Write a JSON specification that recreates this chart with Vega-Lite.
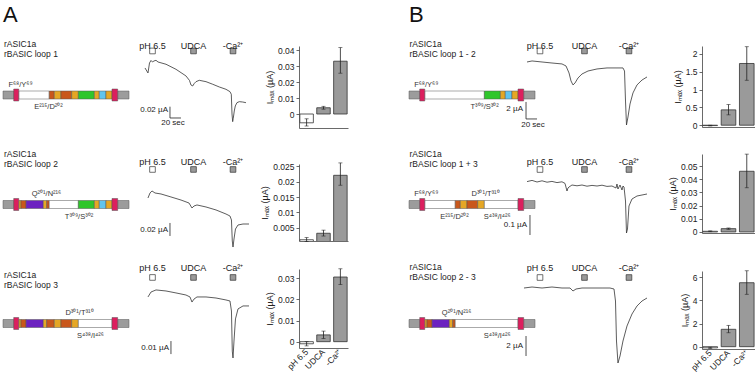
{
"$schema": "https://vega.github.io/schema/vega-lite/v6.json",
"padding": {"left": 2, "top": 3, "right": 2, "bottom": 0},
"background": "white",
"config": {"font": "Liberation Sans", "view": {"stroke": null},
 "axis": {"grid": false, "tickSize": 3, "labelFontSize": 8.5, "titleFontSize": 9, "titleFontWeight": "normal", "domainColor": "#444", "tickColor": "#444", "labelColor": "#222", "titleColor": "#222", "labelPadding": 2, "titlePadding": 3, "domainWidth": 0.8, "tickWidth": 0.8, "labelOverlap": false}},
"datasets": {
 "constructs": [
  {"construct":"loop 1","panel":"A","name":"rASIC1a\nrBASIC loop 1"},
  {"construct":"loop 2","panel":"A","name":"rASIC1a\nrBASIC loop 2"},
  {"construct":"loop 3","panel":"A","name":"rASIC1a\nrBASIC loop 3"},
  {"construct":"loop 1 - 2","panel":"B","name":"rASIC1a\nrBASIC loop 1 - 2"},
  {"construct":"loop 1 + 3","panel":"B","name":"rASIC1a\nrBASIC loop 1 + 3"},
  {"construct":"loop 2 - 3","panel":"B","name":"rASIC1a\nrBASIC loop 2 - 3"}
 ],
 "segments": [
  {"construct":"loop 1","start":0,"end":8.5,"region":"grey"},
  {"construct":"loop 1","start":8.5,"end":12.5,"region":"TM"},
  {"construct":"loop 1","start":12.5,"end":36.7,"region":"BASIC"},
  {"construct":"loop 1","start":36.7,"end":40.7,"region":"orange"},
  {"construct":"loop 1","start":40.7,"end":46,"region":"gold"},
  {"construct":"loop 1","start":46,"end":54.5,"region":"orange"},
  {"construct":"loop 1","start":54.5,"end":59.8,"region":"gold"},
  {"construct":"loop 1","start":59.8,"end":72.5,"region":"green"},
  {"construct":"loop 1","start":72.5,"end":76.4,"region":"gold"},
  {"construct":"loop 1","start":76.4,"end":81.7,"region":"blue"},
  {"construct":"loop 1","start":81.7,"end":86.5,"region":"gold"},
  {"construct":"loop 1","start":86.5,"end":91,"region":"TM"},
  {"construct":"loop 1","start":91,"end":100,"region":"grey"},
  {"construct":"loop 2","start":0,"end":8.5,"region":"grey"},
  {"construct":"loop 2","start":8.5,"end":12.5,"region":"TM"},
  {"construct":"loop 2","start":12.5,"end":14.3,"region":"gold"},
  {"construct":"loop 2","start":14.3,"end":18.3,"region":"orange"},
  {"construct":"loop 2","start":18.3,"end":32,"region":"purple"},
  {"construct":"loop 2","start":32,"end":34.7,"region":"gold"},
  {"construct":"loop 2","start":34.7,"end":36.7,"region":"orange"},
  {"construct":"loop 2","start":36.7,"end":59.8,"region":"BASIC"},
  {"construct":"loop 2","start":59.8,"end":72.5,"region":"green"},
  {"construct":"loop 2","start":72.5,"end":76.4,"region":"gold"},
  {"construct":"loop 2","start":76.4,"end":81.7,"region":"blue"},
  {"construct":"loop 2","start":81.7,"end":86.5,"region":"gold"},
  {"construct":"loop 2","start":86.5,"end":91,"region":"TM"},
  {"construct":"loop 2","start":91,"end":100,"region":"grey"},
  {"construct":"loop 3","start":0,"end":8.5,"region":"grey"},
  {"construct":"loop 3","start":8.5,"end":12.5,"region":"TM"},
  {"construct":"loop 3","start":12.5,"end":14.3,"region":"gold"},
  {"construct":"loop 3","start":14.3,"end":18.3,"region":"orange"},
  {"construct":"loop 3","start":18.3,"end":32,"region":"purple"},
  {"construct":"loop 3","start":32,"end":34.7,"region":"gold"},
  {"construct":"loop 3","start":34.7,"end":40.7,"region":"orange"},
  {"construct":"loop 3","start":40.7,"end":46,"region":"gold"},
  {"construct":"loop 3","start":46,"end":54.5,"region":"orange"},
  {"construct":"loop 3","start":54.5,"end":59.8,"region":"gold"},
  {"construct":"loop 3","start":59.8,"end":86.5,"region":"BASIC"},
  {"construct":"loop 3","start":86.5,"end":91,"region":"TM"},
  {"construct":"loop 3","start":91,"end":100,"region":"grey"},
  {"construct":"loop 1 - 2","start":0,"end":8.5,"region":"grey"},
  {"construct":"loop 1 - 2","start":8.5,"end":12.5,"region":"TM"},
  {"construct":"loop 1 - 2","start":12.5,"end":59.8,"region":"BASIC"},
  {"construct":"loop 1 - 2","start":59.8,"end":72.5,"region":"green"},
  {"construct":"loop 1 - 2","start":72.5,"end":76.4,"region":"gold"},
  {"construct":"loop 1 - 2","start":76.4,"end":81.7,"region":"blue"},
  {"construct":"loop 1 - 2","start":81.7,"end":86.5,"region":"gold"},
  {"construct":"loop 1 - 2","start":86.5,"end":91,"region":"TM"},
  {"construct":"loop 1 - 2","start":91,"end":100,"region":"grey"},
  {"construct":"loop 1 + 3","start":0,"end":8.5,"region":"grey"},
  {"construct":"loop 1 + 3","start":8.5,"end":12.5,"region":"TM"},
  {"construct":"loop 1 + 3","start":12.5,"end":36.7,"region":"BASIC"},
  {"construct":"loop 1 + 3","start":36.7,"end":40.7,"region":"orange"},
  {"construct":"loop 1 + 3","start":40.7,"end":46,"region":"gold"},
  {"construct":"loop 1 + 3","start":46,"end":54.5,"region":"orange"},
  {"construct":"loop 1 + 3","start":54.5,"end":59.8,"region":"gold"},
  {"construct":"loop 1 + 3","start":59.8,"end":86.5,"region":"BASIC"},
  {"construct":"loop 1 + 3","start":86.5,"end":91,"region":"TM"},
  {"construct":"loop 1 + 3","start":91,"end":100,"region":"grey"},
  {"construct":"loop 2 - 3","start":0,"end":8.5,"region":"grey"},
  {"construct":"loop 2 - 3","start":8.5,"end":12.5,"region":"TM"},
  {"construct":"loop 2 - 3","start":12.5,"end":14.3,"region":"gold"},
  {"construct":"loop 2 - 3","start":14.3,"end":18.3,"region":"orange"},
  {"construct":"loop 2 - 3","start":18.3,"end":32,"region":"purple"},
  {"construct":"loop 2 - 3","start":32,"end":34.7,"region":"gold"},
  {"construct":"loop 2 - 3","start":34.7,"end":36.7,"region":"orange"},
  {"construct":"loop 2 - 3","start":36.7,"end":86.5,"region":"BASIC"},
  {"construct":"loop 2 - 3","start":86.5,"end":91,"region":"TM"},
  {"construct":"loop 2 - 3","start":91,"end":100,"region":"grey"}
 ],
 "sites": [
  {"construct":"loop 1","label":"F⁶⁸/Y⁶⁹","pos":13.9,"side":"above"},
  {"construct":"loop 1","label":"E²¹⁵/D²⁰²","pos":36.1,"side":"below"},
  {"construct":"loop 2","label":"Q²⁰¹/N²¹⁶","pos":34.5,"side":"above"},
  {"construct":"loop 2","label":"T³⁰⁹/S³⁰²","pos":60.3,"side":"below"},
  {"construct":"loop 3","label":"D³⁰¹/T³¹⁰","pos":60.7,"side":"above"},
  {"construct":"loop 3","label":"S⁴³⁸/I⁴²⁶","pos":69.4,"side":"below"},
  {"construct":"loop 1 - 2","label":"F⁶⁸/Y⁶⁹","pos":13.7,"side":"above"},
  {"construct":"loop 1 - 2","label":"T³⁰⁹/S³⁰²","pos":60,"side":"below"},
  {"construct":"loop 1 + 3","label":"F⁶⁸/Y⁶⁹","pos":13.7,"side":"above"},
  {"construct":"loop 1 + 3","label":"D³⁰¹/T³¹⁰","pos":60.7,"side":"above"},
  {"construct":"loop 1 + 3","label":"E²¹⁵/D²⁰²","pos":36.1,"side":"below"},
  {"construct":"loop 1 + 3","label":"S⁴³⁸/I⁴²⁶","pos":70,"side":"below"},
  {"construct":"loop 2 - 3","label":"Q²⁰¹/N²¹⁶","pos":37.7,"side":"above"},
  {"construct":"loop 2 - 3","label":"S⁴³⁸/I⁴²⁶","pos":70,"side":"below"}
 ],
 "stimuli": [
  {"panel":"A","cond":"pH 6.5","t":20.9},
  {"panel":"A","cond":"UDCA","t":95.5},
  {"panel":"A","cond":"-Ca²⁺","t":167.3},
  {"panel":"B","cond":"pH 6.5","t":32.7},
  {"panel":"B","cond":"UDCA","t":113.6},
  {"panel":"B","cond":"-Ca²⁺","t":194.5}
 ],
 "scalebars": [
  {"construct":"loop 1","t":52.7,"t2":52.7,"I":-0.1009,"I2":-0.0809},
  {"construct":"loop 1","t":52.7,"t2":72.7,"I":-0.1009,"I2":-0.1009},
  {"construct":"loop 2","t":52.7,"t2":52.7,"I":-0.0615,"I2":-0.0415},
  {"construct":"loop 3","t":54.5,"t2":54.5,"I":-0.0485,"I2":-0.0385},
  {"construct":"loop 1 - 2","t":7.3,"t2":7.3,"I":-6.82,"I2":-4.82},
  {"construct":"loop 1 - 2","t":7.3,"t2":27.3,"I":-6.82,"I2":-6.82},
  {"construct":"loop 1 + 3","t":14.5,"t2":14.5,"I":-0.27,"I2":-0.17},
  {"construct":"loop 2 - 3","t":7.3,"t2":7.3,"I":-6.9,"I2":-4.9}
 ],
 "scalelabels": [
  {"construct":"loop 1","kind":"amp","label":"0.02 µA","t":49.1,"I":-0.0876},
  {"construct":"loop 1","kind":"time","label":"20 sec","t":58.2,"I":-0.1097},
  {"construct":"loop 2","kind":"amp","label":"0.02 µA","t":49.1,"I":-0.0523},
  {"construct":"loop 3","kind":"amp","label":"0.01 µA","t":50.9,"I":-0.0438},
  {"construct":"loop 1 - 2","kind":"amp","label":"2 µA","t":1.8,"I":-5.65},
  {"construct":"loop 1 - 2","kind":"time","label":"20 sec","t":20,"I":-7.53},
  {"construct":"loop 1 + 3","kind":"amp","label":"0.1 µA","t":9.1,"I":-0.22},
  {"construct":"loop 2 - 3","kind":"amp","label":"2 µA","t":1.8,"I":-5.9}
 ],
 "imax": [
  {"construct":"loop 1","cond":"pH 6.5","mean":-0.0055,"lo":-0.0075,"hi":-0.003},
  {"construct":"loop 1","cond":"UDCA","mean":0.0039,"lo":0.003,"hi":0.0048},
  {"construct":"loop 1","cond":"-Ca²⁺","mean":0.033,"lo":0.0255,"hi":0.0415},
  {"construct":"loop 2","cond":"pH 6.5","mean":0.0012,"lo":0.0006,"hi":0.0019},
  {"construct":"loop 2","cond":"UDCA","mean":0.0033,"lo":0.0024,"hi":0.0043},
  {"construct":"loop 2","cond":"-Ca²⁺","mean":0.022,"lo":0.0188,"hi":0.026},
  {"construct":"loop 3","cond":"pH 6.5","mean":-0.001,"lo":-0.002,"hi":0},
  {"construct":"loop 3","cond":"UDCA","mean":0.0032,"lo":0.0015,"hi":0.005},
  {"construct":"loop 3","cond":"-Ca²⁺","mean":0.0306,"lo":0.027,"hi":0.0345},
  {"construct":"loop 1 - 2","cond":"pH 6.5","mean":-0.01,"lo":-0.02,"hi":0},
  {"construct":"loop 1 - 2","cond":"UDCA","mean":0.43,"lo":0.29,"hi":0.58},
  {"construct":"loop 1 - 2","cond":"-Ca²⁺","mean":1.73,"lo":1.26,"hi":2.2},
  {"construct":"loop 1 + 3","cond":"pH 6.5","mean":0.0005,"lo":0.0002,"hi":0.0008},
  {"construct":"loop 1 + 3","cond":"UDCA","mean":0.0025,"lo":0.002,"hi":0.003},
  {"construct":"loop 1 + 3","cond":"-Ca²⁺","mean":0.046,"lo":0.0335,"hi":0.059},
  {"construct":"loop 2 - 3","cond":"pH 6.5","mean":-0.1,"lo":-0.15,"hi":-0.05},
  {"construct":"loop 2 - 3","cond":"UDCA","mean":1.5,"lo":1.2,"hi":1.84},
  {"construct":"loop 2 - 3","cond":"-Ca²⁺","mean":5.52,"lo":4.52,"hi":6.55}
 ],
 "traces": [
  {"construct":"loop 1","t":7.3,"I":-0.0124},{"construct":"loop 1","t":12.7,"I":-0.0212},{"construct":"loop 1","t":15.5,"I":-0.0035},{"construct":"loop 1","t":18.2,"I":0.0009},{"construct":"loop 1","t":20.9,"I":-0.0018},{"construct":"loop 1","t":23.6,"I":0},{"construct":"loop 1","t":27.3,"I":0.0012},{"construct":"loop 1","t":30.9,"I":-0.0018},{"construct":"loop 1","t":45.5,"I":-0.0058},{"construct":"loop 1","t":63.6,"I":-0.0147},{"construct":"loop 1","t":81.8,"I":-0.0265},{"construct":"loop 1","t":88.2,"I":-0.0345},{"construct":"loop 1","t":90.9,"I":-0.0425},{"construct":"loop 1","t":94,"I":-0.0442},{"construct":"loop 1","t":96.9,"I":-0.0398},{"construct":"loop 1","t":100,"I":-0.0366},{"construct":"loop 1","t":106,"I":-0.0342},{"construct":"loop 1","t":118.2,"I":-0.0366},{"construct":"loop 1","t":130.4,"I":-0.0412},{"construct":"loop 1","t":142.4,"I":-0.046},{"construct":"loop 1","t":154.5,"I":-0.0501},{"construct":"loop 1","t":161.8,"I":-0.0543},{"construct":"loop 1","t":164.2,"I":-0.0589},{"construct":"loop 1","t":165.5,"I":-0.0938},{"construct":"loop 1","t":166.7,"I":-0.1074},{"construct":"loop 1","t":167.8,"I":-0.1014},{"construct":"loop 1","t":169.6,"I":-0.0885},{"construct":"loop 1","t":171.5,"I":-0.0796},{"construct":"loop 1","t":174.5,"I":-0.0738},{"construct":"loop 1","t":178.7,"I":-0.072},{"construct":"loop 1","t":184.9,"I":-0.0726},{"construct":"loop 1","t":190.9,"I":-0.0738},
  {"construct":"loop 2","t":12.7,"I":-0.0031},{"construct":"loop 2","t":16.4,"I":0.0046},{"construct":"loop 2","t":20,"I":0.0077},{"construct":"loop 2","t":25.5,"I":0.0046},{"construct":"loop 2","t":36.4,"I":0.0031},{"construct":"loop 2","t":54.5,"I":-0.0015},{"construct":"loop 2","t":72.7,"I":-0.0062},{"construct":"loop 2","t":87.3,"I":-0.0108},{"construct":"loop 2","t":92.7,"I":-0.0185},{"construct":"loop 2","t":96.4,"I":-0.0154},{"construct":"loop 2","t":101.8,"I":-0.0138},{"construct":"loop 2","t":118.2,"I":-0.0169},{"construct":"loop 2","t":136.4,"I":-0.0215},{"construct":"loop 2","t":154.5,"I":-0.0277},{"construct":"loop 2","t":161.8,"I":-0.0308},{"construct":"loop 2","t":164.5,"I":-0.0369},{"construct":"loop 2","t":166,"I":-0.0692},{"construct":"loop 2","t":167.3,"I":-0.0785},{"construct":"loop 2","t":169.1,"I":-0.0662},{"construct":"loop 2","t":171.8,"I":-0.0508},{"construct":"loop 2","t":176.4,"I":-0.0446},{"construct":"loop 2","t":185.5,"I":-0.0431},{"construct":"loop 2","t":196.4,"I":-0.0431},
  {"construct":"loop 3","t":12.7,"I":-0.0046},{"construct":"loop 3","t":18.2,"I":-0.0008},{"construct":"loop 3","t":27.3,"I":0.0008},{"construct":"loop 3","t":45.5,"I":0},{"construct":"loop 3","t":63.6,"I":-0.0015},{"construct":"loop 3","t":81.8,"I":-0.0031},{"construct":"loop 3","t":89.1,"I":-0.0046},{"construct":"loop 3","t":92.7,"I":-0.0085},{"construct":"loop 3","t":96.4,"I":-0.0062},{"construct":"loop 3","t":101.8,"I":-0.0046},{"construct":"loop 3","t":118.2,"I":-0.0046},{"construct":"loop 3","t":136.4,"I":-0.0054},{"construct":"loop 3","t":154.5,"I":-0.0069},{"construct":"loop 3","t":161.8,"I":-0.0077},{"construct":"loop 3","t":164.5,"I":-0.0154},{"construct":"loop 3","t":166,"I":-0.0462},{"construct":"loop 3","t":167.3,"I":-0.0515},{"construct":"loop 3","t":169.1,"I":-0.0385},{"construct":"loop 3","t":171.8,"I":-0.0215},{"construct":"loop 3","t":176.4,"I":-0.0138},{"construct":"loop 3","t":185.5,"I":-0.0115},{"construct":"loop 3","t":196.4,"I":-0.0115},
  {"construct":"loop 1 - 2","t":9.1,"I":-0.12},{"construct":"loop 1 - 2","t":18.2,"I":0},{"construct":"loop 1 - 2","t":36.4,"I":-0.12},{"construct":"loop 1 - 2","t":54.5,"I":-0.24},{"construct":"loop 1 - 2","t":72.7,"I":-0.35},{"construct":"loop 1 - 2","t":80,"I":-0.59},{"construct":"loop 1 - 2","t":85.5,"I":-1.41},{"construct":"loop 1 - 2","t":89.1,"I":-2.35},{"construct":"loop 1 - 2","t":92.7,"I":-2.82},{"construct":"loop 1 - 2","t":96.4,"I":-2.59},{"construct":"loop 1 - 2","t":101.8,"I":-2.0},{"construct":"loop 1 - 2","t":109.1,"I":-1.53},{"construct":"loop 1 - 2","t":120,"I":-1.18},{"construct":"loop 1 - 2","t":136.4,"I":-0.94},{"construct":"loop 1 - 2","t":154.5,"I":-0.82},{"construct":"loop 1 - 2","t":172.7,"I":-0.82},{"construct":"loop 1 - 2","t":183.6,"I":-0.82},{"construct":"loop 1 - 2","t":186.4,"I":-1.18},{"construct":"loop 1 - 2","t":188.2,"I":-4.71},{"construct":"loop 1 - 2","t":190,"I":-7.53},{"construct":"loop 1 - 2","t":192.7,"I":-6.59},{"construct":"loop 1 - 2","t":196.4,"I":-5.06},{"construct":"loop 1 - 2","t":201.8,"I":-3.76},{"construct":"loop 1 - 2","t":209.1,"I":-2.82},{"construct":"loop 1 - 2","t":218.2,"I":-2.24},{"construct":"loop 1 - 2","t":227.3,"I":-1.88},
  {"construct":"loop 1 + 3","t":9.1,"I":-0.003},{"construct":"loop 1 + 3","t":18.2,"I":0.003},{"construct":"loop 1 + 3","t":27.3,"I":-0.005},{"construct":"loop 1 + 3","t":36.4,"I":0.001},{"construct":"loop 1 + 3","t":45.5,"I":-0.006},{"construct":"loop 1 + 3","t":54.5,"I":-0.002},{"construct":"loop 1 + 3","t":63.6,"I":-0.008},{"construct":"loop 1 + 3","t":72.7,"I":-0.004},{"construct":"loop 1 + 3","t":78.2,"I":-0.012},{"construct":"loop 1 + 3","t":81.8,"I":-0.05},{"construct":"loop 1 + 3","t":83.6,"I":-0.035},{"construct":"loop 1 + 3","t":85.5,"I":-0.03},{"construct":"loop 1 + 3","t":90.9,"I":-0.02},{"construct":"loop 1 + 3","t":100,"I":-0.024},{"construct":"loop 1 + 3","t":109.1,"I":-0.02},{"construct":"loop 1 + 3","t":118.2,"I":-0.026},{"construct":"loop 1 + 3","t":127.3,"I":-0.022},{"construct":"loop 1 + 3","t":136.4,"I":-0.025},{"construct":"loop 1 + 3","t":145.5,"I":-0.021},{"construct":"loop 1 + 3","t":154.5,"I":-0.027},{"construct":"loop 1 + 3","t":163.6,"I":-0.025},{"construct":"loop 1 + 3","t":170.9,"I":-0.035},{"construct":"loop 1 + 3","t":172.7,"I":-0.015},{"construct":"loop 1 + 3","t":174.5,"I":-0.04},{"construct":"loop 1 + 3","t":178.2,"I":-0.02},{"construct":"loop 1 + 3","t":181.8,"I":-0.045},{"construct":"loop 1 + 3","t":183.6,"I":-0.025},{"construct":"loop 1 + 3","t":185.5,"I":-0.03},{"construct":"loop 1 + 3","t":188.2,"I":-0.1},{"construct":"loop 1 + 3","t":190,"I":-0.26},{"construct":"loop 1 + 3","t":191.8,"I":-0.24},{"construct":"loop 1 + 3","t":194.5,"I":-0.125},{"construct":"loop 1 + 3","t":200,"I":-0.09},{"construct":"loop 1 + 3","t":209.1,"I":-0.075},{"construct":"loop 1 + 3","t":218.2,"I":-0.07},{"construct":"loop 1 + 3","t":227.3,"I":-0.065},
  {"construct":"loop 2 - 3","t":3.6,"I":-0.1},{"construct":"loop 2 - 3","t":18.2,"I":0},{"construct":"loop 2 - 3","t":36.4,"I":-0.1},{"construct":"loop 2 - 3","t":54.5,"I":0},{"construct":"loop 2 - 3","t":72.7,"I":-0.1},{"construct":"loop 2 - 3","t":87.3,"I":-0.1},{"construct":"loop 2 - 3","t":92.7,"I":-0.4},{"construct":"loop 2 - 3","t":98.2,"I":-0.2},{"construct":"loop 2 - 3","t":109.1,"I":-0.1},{"construct":"loop 2 - 3","t":127.3,"I":-0.1},{"construct":"loop 2 - 3","t":145.5,"I":-0.1},{"construct":"loop 2 - 3","t":160,"I":-0.1},{"construct":"loop 2 - 3","t":167.3,"I":-0.2},{"construct":"loop 2 - 3","t":170,"I":-1.4},{"construct":"loop 2 - 3","t":171.8,"I":-5.4},{"construct":"loop 2 - 3","t":174.5,"I":-7.6},{"construct":"loop 2 - 3","t":178.2,"I":-6.9},{"construct":"loop 2 - 3","t":183.6,"I":-5.4},{"construct":"loop 2 - 3","t":190.9,"I":-3.9},{"construct":"loop 2 - 3","t":200,"I":-2.7},{"construct":"loop 2 - 3","t":209.1,"I":-1.9},{"construct":"loop 2 - 3","t":218.2,"I":-1.4},{"construct":"loop 2 - 3","t":227.3,"I":-1.1}
 ]
},
"spacing": 60,
"hconcat": [
 {"columns": 2, "spacing": 0, "bounds": "flush", "align": "each", "concat": [
  {"width": 296, "height": 118, "resolve": {"scale": {"x": "independent", "y": "independent"}}, "layer": [
   {"layer": [
    {"data": {"name": "segments"}, "transform": [{"filter": "datum.construct === 'loop 1' && datum.region !== 'TM'"}], "mark": {"type": "rect", "stroke": "#555", "strokeWidth": 0.5},
     "encoding": {"x": {"field": "start", "type": "quantitative", "scale": {"domain": [0, 234.9], "nice": false, "zero": false}, "axis": null}, "x2": {"field": "end"},
      "y": {"datum": -1, "type": "quantitative", "scale": {"domain": [-17.25, 12.25], "nice": false, "zero": false}, "axis": null}, "y2": {"datum": 1},
      "color": {"field": "region", "type": "nominal", "scale": {"domain": ["grey","TM","BASIC","orange","gold","green","blue","purple"], "range": ["#9c9c9c","#dc1f5e","#ffffff","#c9571b","#e5a725","#2fc62b","#60c4ef","#6c22c0"]}, "legend": null}}},
    {"data": {"name": "segments"}, "transform": [{"filter": "datum.construct === 'loop 1' && datum.region === 'TM'"}], "mark": {"type": "rect", "stroke": "#555", "strokeWidth": 0.5},
     "encoding": {"x": {"field": "start", "type": "quantitative", "scale": {"domain": [0, 234.9], "nice": false, "zero": false}, "axis": null}, "x2": {"field": "end"}, "y": {"datum": -1.5, "type": "quantitative", "scale": {"domain": [-17.25, 12.25], "nice": false, "zero": false}, "axis": null}, "y2": {"datum": 1.5}, "color": {"field": "region", "type": "nominal", "legend": null}}},
    {"data": {"name": "sites"}, "transform": [{"filter": "datum.construct === 'loop 1' && datum.side === 'above'"}], "mark": {"type": "text", "fontSize": 7.5, "color": "#333", "baseline": "middle"},
     "encoding": {"x": {"field": "pos", "type": "quantitative", "scale": {"domain": [0, 234.9], "nice": false, "zero": false}, "axis": null}, "y": {"datum": 2.6, "type": "quantitative", "scale": {"domain": [-17.25, 12.25], "nice": false, "zero": false}, "axis": null}, "text": {"field": "label"}}},
    {"data": {"name": "sites"}, "transform": [{"filter": "datum.construct === 'loop 1' && datum.side === 'below'"}], "mark": {"type": "text", "fontSize": 7.5, "color": "#333", "baseline": "middle"},
     "encoding": {"x": {"field": "pos", "type": "quantitative", "scale": {"domain": [0, 234.9], "nice": false, "zero": false}, "axis": null}, "y": {"datum": -3, "type": "quantitative", "scale": {"domain": [-17.25, 12.25], "nice": false, "zero": false}, "axis": null}, "text": {"field": "label"}}},
    {"data": {"name": "constructs"}, "transform": [{"filter": "datum.construct === 'loop 1'"}], "mark": {"type": "text", "fontSize": 8.5, "align": "left", "baseline": "alphabetic", "lineBreak": "\n", "lineHeight": 10, "color": "#222"},
     "encoding": {"x": {"datum": 0.8, "type": "quantitative", "scale": {"domain": [0, 234.9], "nice": false, "zero": false}, "axis": null}, "y": {"datum": 12.1, "type": "quantitative", "scale": {"domain": [-17.25, 12.25], "nice": false, "zero": false}, "axis": null}, "text": {"field": "name"}}},
    {"data": {"name": "constructs"}, "transform": [{"filter": "datum.construct === 'loop 1'"}], "mark": {"type": "text", "fontSize": 22, "align": "left", "baseline": "alphabetic", "color": "#111"},
     "encoding": {"x": {"datum": 0, "type": "quantitative", "scale": {"domain": [0, 234.9], "nice": false, "zero": false}, "axis": null}, "y": {"datum": 18.25, "type": "quantitative", "scale": {"domain": [-17.25, 12.25], "nice": false, "zero": false}, "axis": null}, "text": {"field": "panel"}}}
   ]},
   {"layer": [
    {"data": {"name": "traces"}, "transform": [{"filter": "datum.construct === 'loop 1'"}], "mark": {"type": "line", "color": "#333", "strokeWidth": 0.8},
     "encoding": {"x": {"field": "t", "type": "quantitative", "scale": {"domain": [-250.9, 287.3], "nice": false, "zero": false}, "axis": null}, "y": {"field": "I", "type": "quantitative", "scale": {"domain": [-0.1823, 0.0265], "nice": false, "zero": false}, "axis": null}}},
    {"data": {"name": "stimuli"}, "transform": [{"filter": "datum.panel === 'A'"}], "mark": {"type": "square", "size": 32, "stroke": "#333", "strokeWidth": 0.7, "opacity": 1},
     "encoding": {"x": {"field": "t", "type": "quantitative", "scale": {"domain": [-250.9, 287.3], "nice": false, "zero": false}, "axis": null}, "y": {"datum": 0.0177, "type": "quantitative", "scale": {"domain": [-0.1823, 0.0265], "nice": false, "zero": false}, "axis": null}, "fill": {"condition": {"test": "datum.cond === 'pH 6.5'", "value": "#ffffff"}, "value": "#9a9a9a"}}},
    {"data": {"name": "stimuli"}, "transform": [{"filter": "datum.panel === 'A'"}], "mark": {"type": "text", "fontSize": 9, "baseline": "middle", "color": "#222"},
     "encoding": {"x": {"field": "t", "type": "quantitative", "scale": {"domain": [-250.9, 287.3], "nice": false, "zero": false}, "axis": null}, "y": {"datum": 0.0265, "type": "quantitative", "scale": {"domain": [-0.1823, 0.0265], "nice": false, "zero": false}, "axis": null}, "text": {"field": "cond"}}},
    {"data": {"name": "scalebars"}, "transform": [{"filter": "datum.construct === 'loop 1'"}], "mark": {"type": "rule", "color": "#222", "strokeWidth": 0.8},
     "encoding": {"x": {"field": "t", "type": "quantitative", "scale": {"domain": [-250.9, 287.3], "nice": false, "zero": false}, "axis": null}, "x2": {"field": "t2"}, "y": {"field": "I", "type": "quantitative", "scale": {"domain": [-0.1823, 0.0265], "nice": false, "zero": false}, "axis": null}, "y2": {"field": "I2"}}},
    {"data": {"name": "scalelabels"}, "transform": [{"filter": "datum.construct === 'loop 1' && datum.kind === 'amp'"}], "mark": {"type": "text", "fontSize": 8, "align": "right", "baseline": "middle", "color": "#222"},
     "encoding": {"x": {"field": "t", "type": "quantitative", "scale": {"domain": [-250.9, 287.3], "nice": false, "zero": false}, "axis": null}, "y": {"field": "I", "type": "quantitative", "scale": {"domain": [-0.1823, 0.0265], "nice": false, "zero": false}, "axis": null}, "text": {"field": "label"}}},
    {"data": {"name": "scalelabels"}, "transform": [{"filter": "datum.construct === 'loop 1' && datum.kind === 'time'"}], "mark": {"type": "text", "fontSize": 8, "align": "center", "baseline": "middle", "color": "#222"},
     "encoding": {"x": {"field": "t", "type": "quantitative", "scale": {"domain": [-250.9, 287.3], "nice": false, "zero": false}, "axis": null}, "y": {"field": "I", "type": "quantitative", "scale": {"domain": [-0.1823, 0.0265], "nice": false, "zero": false}, "axis": null}, "text": {"field": "label"}}}
   ]}
  ]},
  {"width": 49, "height": 82, "data": {"name": "imax"}, "transform": [{"filter": "datum.construct === 'loop 1'"}],
   "encoding": {"x": {"field": "cond", "type": "nominal", "sort": ["pH 6.5","UDCA","-Ca²⁺"], "scale": {"paddingInner": 0.2, "paddingOuter": 0.05}, "axis": {"labels": false, "ticks": false, "title": null}}},
   "layer": [
    {"mark": {"type": "bar", "stroke": "#333", "strokeWidth": 0.8, "clip": true}, "encoding": {"y": {"field": "mean", "type": "quantitative", "scale": {"domain": [-0.00875, 0.0425], "nice": false, "zero": false}, "axis": {"title": "Iₘₐₓ (µA)", "values": [0, 0.01, 0.02, 0.03, 0.04], "tickCount": 12, "format": ".3~g"}}, "y2": {"datum": 0}, "fill": {"condition": {"test": "datum.cond === 'pH 6.5'", "value": "#ffffff"}, "value": "#9a9a9a"}}},
    {"mark": {"type": "rule", "color": "#222", "strokeWidth": 0.8}, "encoding": {"y": {"field": "lo", "type": "quantitative", "scale": {"domain": [-0.00875, 0.0425], "nice": false, "zero": false}}, "y2": {"field": "hi"}}},
    {"mark": {"type": "tick", "color": "#222", "thickness": 0.8, "size": 4}, "encoding": {"y": {"field": "lo", "type": "quantitative", "scale": {"domain": [-0.00875, 0.0425], "nice": false, "zero": false}}}},
    {"mark": {"type": "tick", "color": "#222", "thickness": 0.8, "size": 4}, "encoding": {"y": {"field": "hi", "type": "quantitative", "scale": {"domain": [-0.00875, 0.0425], "nice": false, "zero": false}}}}
   ]},
  {"width": 296, "height": 105, "resolve": {"scale": {"x": "independent", "y": "independent"}}, "layer": [
   {"layer": [
    {"data": {"name": "segments"}, "transform": [{"filter": "datum.construct === 'loop 2' && datum.region !== 'TM'"}], "mark": {"type": "rect", "stroke": "#555", "strokeWidth": 0.5},
     "encoding": {"x": {"field": "start", "type": "quantitative", "scale": {"domain": [0, 234.9], "nice": false, "zero": false}, "axis": null}, "x2": {"field": "end"},
      "y": {"datum": -1, "type": "quantitative", "scale": {"domain": [-16.125, 10.125], "nice": false, "zero": false}, "axis": null}, "y2": {"datum": 1},
      "color": {"field": "region", "type": "nominal", "scale": {"domain": ["grey","TM","BASIC","orange","gold","green","blue","purple"], "range": ["#9c9c9c","#dc1f5e","#ffffff","#c9571b","#e5a725","#2fc62b","#60c4ef","#6c22c0"]}, "legend": null}}},
    {"data": {"name": "segments"}, "transform": [{"filter": "datum.construct === 'loop 2' && datum.region === 'TM'"}], "mark": {"type": "rect", "stroke": "#555", "strokeWidth": 0.5},
     "encoding": {"x": {"field": "start", "type": "quantitative", "scale": {"domain": [0, 234.9], "nice": false, "zero": false}, "axis": null}, "x2": {"field": "end"}, "y": {"datum": -1.5, "type": "quantitative", "scale": {"domain": [-16.125, 10.125], "nice": false, "zero": false}, "axis": null}, "y2": {"datum": 1.5}, "color": {"field": "region", "type": "nominal", "legend": null}}},
    {"data": {"name": "sites"}, "transform": [{"filter": "datum.construct === 'loop 2' && datum.side === 'above'"}], "mark": {"type": "text", "fontSize": 7.5, "color": "#333", "baseline": "middle"},
     "encoding": {"x": {"field": "pos", "type": "quantitative", "scale": {"domain": [0, 234.9], "nice": false, "zero": false}, "axis": null}, "y": {"datum": 2.6, "type": "quantitative", "scale": {"domain": [-16.125, 10.125], "nice": false, "zero": false}, "axis": null}, "text": {"field": "label"}}},
    {"data": {"name": "sites"}, "transform": [{"filter": "datum.construct === 'loop 2' && datum.side === 'below'"}], "mark": {"type": "text", "fontSize": 7.5, "color": "#333", "baseline": "middle"},
     "encoding": {"x": {"field": "pos", "type": "quantitative", "scale": {"domain": [0, 234.9], "nice": false, "zero": false}, "axis": null}, "y": {"datum": -3, "type": "quantitative", "scale": {"domain": [-16.125, 10.125], "nice": false, "zero": false}, "axis": null}, "text": {"field": "label"}}},
    {"data": {"name": "constructs"}, "transform": [{"filter": "datum.construct === 'loop 2'"}], "mark": {"type": "text", "fontSize": 8.5, "align": "left", "baseline": "alphabetic", "lineBreak": "\n", "lineHeight": 10, "color": "#222"},
     "encoding": {"x": {"datum": 0.8, "type": "quantitative", "scale": {"domain": [0, 234.9], "nice": false, "zero": false}, "axis": null}, "y": {"datum": 11.9, "type": "quantitative", "scale": {"domain": [-16.125, 10.125], "nice": false, "zero": false}, "axis": null}, "text": {"field": "name"}}}
   ]},
   {"layer": [
    {"data": {"name": "traces"}, "transform": [{"filter": "datum.construct === 'loop 2'"}], "mark": {"type": "line", "color": "#333", "strokeWidth": 0.8},
     "encoding": {"x": {"field": "t", "type": "quantitative", "scale": {"domain": [-250.9, 287.3], "nice": false, "zero": false}, "axis": null}, "y": {"field": "I", "type": "quantitative", "scale": {"domain": [-0.1123, 0.0492], "nice": false, "zero": false}, "axis": null}}},
    {"data": {"name": "stimuli"}, "transform": [{"filter": "datum.panel === 'A'"}], "mark": {"type": "square", "size": 32, "stroke": "#333", "strokeWidth": 0.7, "opacity": 1},
     "encoding": {"x": {"field": "t", "type": "quantitative", "scale": {"domain": [-250.9, 287.3], "nice": false, "zero": false}, "axis": null}, "y": {"datum": 0.0408, "type": "quantitative", "scale": {"domain": [-0.1123, 0.0492], "nice": false, "zero": false}, "axis": null}, "fill": {"condition": {"test": "datum.cond === 'pH 6.5'", "value": "#ffffff"}, "value": "#9a9a9a"}}},
    {"data": {"name": "stimuli"}, "transform": [{"filter": "datum.panel === 'A'"}], "mark": {"type": "text", "fontSize": 9, "baseline": "middle", "color": "#222"},
     "encoding": {"x": {"field": "t", "type": "quantitative", "scale": {"domain": [-250.9, 287.3], "nice": false, "zero": false}, "axis": null}, "y": {"datum": 0.0523, "type": "quantitative", "scale": {"domain": [-0.1123, 0.0492], "nice": false, "zero": false}, "axis": null}, "text": {"field": "cond"}}},
    {"data": {"name": "scalebars"}, "transform": [{"filter": "datum.construct === 'loop 2'"}], "mark": {"type": "rule", "color": "#222", "strokeWidth": 0.8},
     "encoding": {"x": {"field": "t", "type": "quantitative", "scale": {"domain": [-250.9, 287.3], "nice": false, "zero": false}, "axis": null}, "x2": {"field": "t2"}, "y": {"field": "I", "type": "quantitative", "scale": {"domain": [-0.1123, 0.0492], "nice": false, "zero": false}, "axis": null}, "y2": {"field": "I2"}}},
    {"data": {"name": "scalelabels"}, "transform": [{"filter": "datum.construct === 'loop 2' && datum.kind === 'amp'"}], "mark": {"type": "text", "fontSize": 8, "align": "right", "baseline": "middle", "color": "#222"},
     "encoding": {"x": {"field": "t", "type": "quantitative", "scale": {"domain": [-250.9, 287.3], "nice": false, "zero": false}, "axis": null}, "y": {"field": "I", "type": "quantitative", "scale": {"domain": [-0.1123, 0.0492], "nice": false, "zero": false}, "axis": null}, "text": {"field": "label"}}}
   ]}
  ]},
  {"width": 49, "height": 77, "data": {"name": "imax"}, "transform": [{"filter": "datum.construct === 'loop 2'"}],
   "encoding": {"x": {"field": "cond", "type": "nominal", "sort": ["pH 6.5","UDCA","-Ca²⁺"], "scale": {"paddingInner": 0.2, "paddingOuter": 0.05}, "axis": {"labels": false, "ticks": false, "title": null}}},
   "layer": [
    {"mark": {"type": "bar", "stroke": "#333", "strokeWidth": 0.8, "clip": true}, "encoding": {"y": {"field": "mean", "type": "quantitative", "scale": {"domain": [0.0008, 0.02565], "nice": false, "zero": false}, "axis": {"title": "Iₘₐₓ (µA)", "values": [0.005, 0.01, 0.015, 0.02, 0.025], "tickCount": 12, "format": ".3~g"}}, "y2": {"datum": 0}, "fill": {"condition": {"test": "datum.cond === 'pH 6.5'", "value": "#ffffff"}, "value": "#9a9a9a"}}},
    {"mark": {"type": "rule", "color": "#222", "strokeWidth": 0.8}, "encoding": {"y": {"field": "lo", "type": "quantitative", "scale": {"domain": [0.0008, 0.02565], "nice": false, "zero": false}}, "y2": {"field": "hi"}}},
    {"mark": {"type": "tick", "color": "#222", "thickness": 0.8, "size": 4}, "encoding": {"y": {"field": "lo", "type": "quantitative", "scale": {"domain": [0.0008, 0.02565], "nice": false, "zero": false}}}},
    {"mark": {"type": "tick", "color": "#222", "thickness": 0.8, "size": 4}, "encoding": {"y": {"field": "hi", "type": "quantitative", "scale": {"domain": [0.0008, 0.02565], "nice": false, "zero": false}}}}
   ]},
  {"width": 296, "height": 109, "resolve": {"scale": {"x": "independent", "y": "independent"}}, "layer": [
   {"layer": [
    {"data": {"name": "segments"}, "transform": [{"filter": "datum.construct === 'loop 3' && datum.region !== 'TM'"}], "mark": {"type": "rect", "stroke": "#555", "strokeWidth": 0.5},
     "encoding": {"x": {"field": "start", "type": "quantitative", "scale": {"domain": [0, 234.9], "nice": false, "zero": false}, "axis": null}, "x2": {"field": "end"},
      "y": {"datum": -1, "type": "quantitative", "scale": {"domain": [-13.625, 13.625], "nice": false, "zero": false}, "axis": null}, "y2": {"datum": 1},
      "color": {"field": "region", "type": "nominal", "scale": {"domain": ["grey","TM","BASIC","orange","gold","green","blue","purple"], "range": ["#9c9c9c","#dc1f5e","#ffffff","#c9571b","#e5a725","#2fc62b","#60c4ef","#6c22c0"]}, "legend": null}}},
    {"data": {"name": "segments"}, "transform": [{"filter": "datum.construct === 'loop 3' && datum.region === 'TM'"}], "mark": {"type": "rect", "stroke": "#555", "strokeWidth": 0.5},
     "encoding": {"x": {"field": "start", "type": "quantitative", "scale": {"domain": [0, 234.9], "nice": false, "zero": false}, "axis": null}, "x2": {"field": "end"}, "y": {"datum": -1.5, "type": "quantitative", "scale": {"domain": [-13.625, 13.625], "nice": false, "zero": false}, "axis": null}, "y2": {"datum": 1.5}, "color": {"field": "region", "type": "nominal", "legend": null}}},
    {"data": {"name": "sites"}, "transform": [{"filter": "datum.construct === 'loop 3' && datum.side === 'above'"}], "mark": {"type": "text", "fontSize": 7.5, "color": "#333", "baseline": "middle"},
     "encoding": {"x": {"field": "pos", "type": "quantitative", "scale": {"domain": [0, 234.9], "nice": false, "zero": false}, "axis": null}, "y": {"datum": 2.6, "type": "quantitative", "scale": {"domain": [-13.625, 13.625], "nice": false, "zero": false}, "axis": null}, "text": {"field": "label"}}},
    {"data": {"name": "sites"}, "transform": [{"filter": "datum.construct === 'loop 3' && datum.side === 'below'"}], "mark": {"type": "text", "fontSize": 7.5, "color": "#333", "baseline": "middle"},
     "encoding": {"x": {"field": "pos", "type": "quantitative", "scale": {"domain": [0, 234.9], "nice": false, "zero": false}, "axis": null}, "y": {"datum": -3, "type": "quantitative", "scale": {"domain": [-13.625, 13.625], "nice": false, "zero": false}, "axis": null}, "text": {"field": "label"}}},
    {"data": {"name": "constructs"}, "transform": [{"filter": "datum.construct === 'loop 3'"}], "mark": {"type": "text", "fontSize": 8.5, "align": "left", "baseline": "alphabetic", "lineBreak": "\n", "lineHeight": 10, "color": "#222"},
     "encoding": {"x": {"datum": 0.8, "type": "quantitative", "scale": {"domain": [0, 234.9], "nice": false, "zero": false}, "axis": null}, "y": {"datum": 11.5, "type": "quantitative", "scale": {"domain": [-13.625, 13.625], "nice": false, "zero": false}, "axis": null}, "text": {"field": "name"}}}
   ]},
   {"layer": [
    {"data": {"name": "traces"}, "transform": [{"filter": "datum.construct === 'loop 3'"}], "mark": {"type": "line", "color": "#333", "strokeWidth": 0.8},
     "encoding": {"x": {"field": "t", "type": "quantitative", "scale": {"domain": [-250.9, 287.3], "nice": false, "zero": false}, "axis": null}, "y": {"field": "I", "type": "quantitative", "scale": {"domain": [-0.0669, 0.0169], "nice": false, "zero": false}, "axis": null}}},
    {"data": {"name": "stimuli"}, "transform": [{"filter": "datum.panel === 'A'"}], "mark": {"type": "square", "size": 32, "stroke": "#333", "strokeWidth": 0.7, "opacity": 1},
     "encoding": {"x": {"field": "t", "type": "quantitative", "scale": {"domain": [-250.9, 287.3], "nice": false, "zero": false}, "axis": null}, "y": {"datum": 0.0104, "type": "quantitative", "scale": {"domain": [-0.0669, 0.0169], "nice": false, "zero": false}, "axis": null}, "fill": {"condition": {"test": "datum.cond === 'pH 6.5'", "value": "#ffffff"}, "value": "#9a9a9a"}}},
    {"data": {"name": "stimuli"}, "transform": [{"filter": "datum.panel === 'A'"}], "mark": {"type": "text", "fontSize": 9, "baseline": "middle", "color": "#222"},
     "encoding": {"x": {"field": "t", "type": "quantitative", "scale": {"domain": [-250.9, 287.3], "nice": false, "zero": false}, "axis": null}, "y": {"datum": 0.0177, "type": "quantitative", "scale": {"domain": [-0.0669, 0.0169], "nice": false, "zero": false}, "axis": null}, "text": {"field": "cond"}}},
    {"data": {"name": "scalebars"}, "transform": [{"filter": "datum.construct === 'loop 3'"}], "mark": {"type": "rule", "color": "#222", "strokeWidth": 0.8},
     "encoding": {"x": {"field": "t", "type": "quantitative", "scale": {"domain": [-250.9, 287.3], "nice": false, "zero": false}, "axis": null}, "x2": {"field": "t2"}, "y": {"field": "I", "type": "quantitative", "scale": {"domain": [-0.0669, 0.0169], "nice": false, "zero": false}, "axis": null}, "y2": {"field": "I2"}}},
    {"data": {"name": "scalelabels"}, "transform": [{"filter": "datum.construct === 'loop 3' && datum.kind === 'amp'"}], "mark": {"type": "text", "fontSize": 8, "align": "right", "baseline": "middle", "color": "#222"},
     "encoding": {"x": {"field": "t", "type": "quantitative", "scale": {"domain": [-250.9, 287.3], "nice": false, "zero": false}, "axis": null}, "y": {"field": "I", "type": "quantitative", "scale": {"domain": [-0.0669, 0.0169], "nice": false, "zero": false}, "axis": null}, "text": {"field": "label"}}}
   ]}
  ]},
  {"width": 49, "height": 79, "data": {"name": "imax"}, "transform": [{"filter": "datum.construct === 'loop 3'"}],
   "encoding": {"x": {"field": "cond", "type": "nominal", "sort": ["pH 6.5","UDCA","-Ca²⁺"], "scale": {"paddingInner": 0.2, "paddingOuter": 0.05}, "axis": {"ticks": false, "title": null, "labelAngle": -45, "labelAlign": "right", "labelBaseline": "middle", "labelFontSize": 8.5, "labelPadding": 2}}},
   "layer": [
    {"mark": {"type": "bar", "stroke": "#333", "strokeWidth": 0.8, "clip": true}, "encoding": {"y": {"field": "mean", "type": "quantitative", "scale": {"domain": [-0.003, 0.0344], "nice": false, "zero": false}, "axis": {"title": "Iₘₐₓ (µA)", "values": [0, 0.01, 0.02, 0.03], "tickCount": 12, "format": ".3~g"}}, "y2": {"datum": 0}, "fill": {"condition": {"test": "datum.cond === 'pH 6.5'", "value": "#ffffff"}, "value": "#9a9a9a"}}},
    {"mark": {"type": "rule", "color": "#222", "strokeWidth": 0.8}, "encoding": {"y": {"field": "lo", "type": "quantitative", "scale": {"domain": [-0.003, 0.0344], "nice": false, "zero": false}}, "y2": {"field": "hi"}}},
    {"mark": {"type": "tick", "color": "#222", "thickness": 0.8, "size": 4}, "encoding": {"y": {"field": "lo", "type": "quantitative", "scale": {"domain": [-0.003, 0.0344], "nice": false, "zero": false}}}},
    {"mark": {"type": "tick", "color": "#222", "thickness": 0.8, "size": 4}, "encoding": {"y": {"field": "hi", "type": "quantitative", "scale": {"domain": [-0.003, 0.0344], "nice": false, "zero": false}}}}
   ]}
 ]},
 {"columns": 2, "spacing": 0, "bounds": "flush", "align": "each", "concat": [
  {"width": 293, "height": 108, "resolve": {"scale": {"x": "independent", "y": "independent"}}, "layer": [
   {"layer": [
    {"data": {"name": "segments"}, "transform": [{"filter": "datum.construct === 'loop 1 - 2' && datum.region !== 'TM'"}], "mark": {"type": "rect", "stroke": "#555", "strokeWidth": 0.5},
     "encoding": {"x": {"field": "start", "type": "quantitative", "scale": {"domain": [0, 232.5], "nice": false, "zero": false}, "axis": null}, "x2": {"field": "end"},
      "y": {"datum": -1, "type": "quantitative", "scale": {"domain": [-14.75, 12.25], "nice": false, "zero": false}, "axis": null}, "y2": {"datum": 1},
      "color": {"field": "region", "type": "nominal", "scale": {"domain": ["grey","TM","BASIC","orange","gold","green","blue","purple"], "range": ["#9c9c9c","#dc1f5e","#ffffff","#c9571b","#e5a725","#2fc62b","#60c4ef","#6c22c0"]}, "legend": null}}},
    {"data": {"name": "segments"}, "transform": [{"filter": "datum.construct === 'loop 1 - 2' && datum.region === 'TM'"}], "mark": {"type": "rect", "stroke": "#555", "strokeWidth": 0.5},
     "encoding": {"x": {"field": "start", "type": "quantitative", "scale": {"domain": [0, 232.5], "nice": false, "zero": false}, "axis": null}, "x2": {"field": "end"}, "y": {"datum": -1.5, "type": "quantitative", "scale": {"domain": [-14.75, 12.25], "nice": false, "zero": false}, "axis": null}, "y2": {"datum": 1.5}, "color": {"field": "region", "type": "nominal", "legend": null}}},
    {"data": {"name": "sites"}, "transform": [{"filter": "datum.construct === 'loop 1 - 2' && datum.side === 'above'"}], "mark": {"type": "text", "fontSize": 7.5, "color": "#333", "baseline": "middle"},
     "encoding": {"x": {"field": "pos", "type": "quantitative", "scale": {"domain": [0, 232.5], "nice": false, "zero": false}, "axis": null}, "y": {"datum": 2.6, "type": "quantitative", "scale": {"domain": [-14.75, 12.25], "nice": false, "zero": false}, "axis": null}, "text": {"field": "label"}}},
    {"data": {"name": "sites"}, "transform": [{"filter": "datum.construct === 'loop 1 - 2' && datum.side === 'below'"}], "mark": {"type": "text", "fontSize": 7.5, "color": "#333", "baseline": "middle"},
     "encoding": {"x": {"field": "pos", "type": "quantitative", "scale": {"domain": [0, 232.5], "nice": false, "zero": false}, "axis": null}, "y": {"datum": -3, "type": "quantitative", "scale": {"domain": [-14.75, 12.25], "nice": false, "zero": false}, "axis": null}, "text": {"field": "label"}}},
    {"data": {"name": "constructs"}, "transform": [{"filter": "datum.construct === 'loop 1 - 2'"}], "mark": {"type": "text", "fontSize": 8.5, "align": "left", "baseline": "alphabetic", "lineBreak": "\n", "lineHeight": 10, "color": "#222"},
     "encoding": {"x": {"datum": 0.4, "type": "quantitative", "scale": {"domain": [0, 232.5], "nice": false, "zero": false}, "axis": null}, "y": {"datum": 12.1, "type": "quantitative", "scale": {"domain": [-14.75, 12.25], "nice": false, "zero": false}, "axis": null}, "text": {"field": "name"}}},
    {"data": {"name": "constructs"}, "transform": [{"filter": "datum.construct === 'loop 1 - 2'"}], "mark": {"type": "text", "fontSize": 22, "align": "left", "baseline": "alphabetic", "color": "#111"},
     "encoding": {"x": {"datum": 0, "type": "quantitative", "scale": {"domain": [0, 232.5], "nice": false, "zero": false}, "axis": null}, "y": {"datum": 18.25, "type": "quantitative", "scale": {"domain": [-14.75, 12.25], "nice": false, "zero": false}, "axis": null}, "text": {"field": "panel"}}}
   ]},
   {"layer": [
    {"data": {"name": "traces"}, "transform": [{"filter": "datum.construct === 'loop 1 - 2'"}], "mark": {"type": "line", "color": "#333", "strokeWidth": 0.8},
     "encoding": {"x": {"field": "t", "type": "quantitative", "scale": {"domain": [-205.5, 327.3], "nice": false, "zero": false}, "axis": null}, "y": {"field": "I", "type": "quantitative", "scale": {"domain": [-10.94, 1.76], "nice": false, "zero": false}, "axis": null}}},
    {"data": {"name": "stimuli"}, "transform": [{"filter": "datum.panel === 'B'"}], "mark": {"type": "square", "size": 32, "stroke": "#333", "strokeWidth": 0.7, "opacity": 1},
     "encoding": {"x": {"field": "t", "type": "quantitative", "scale": {"domain": [-205.5, 327.3], "nice": false, "zero": false}, "axis": null}, "y": {"datum": 1.176, "type": "quantitative", "scale": {"domain": [-10.94, 1.76], "nice": false, "zero": false}, "axis": null}, "fill": {"condition": {"test": "datum.cond === 'pH 6.5'", "value": "#ffffff"}, "value": "#9a9a9a"}}},
    {"data": {"name": "stimuli"}, "transform": [{"filter": "datum.panel === 'B'"}], "mark": {"type": "text", "fontSize": 9, "baseline": "middle", "color": "#222"},
     "encoding": {"x": {"field": "t", "type": "quantitative", "scale": {"domain": [-205.5, 327.3], "nice": false, "zero": false}, "axis": null}, "y": {"datum": 1.765, "type": "quantitative", "scale": {"domain": [-10.94, 1.76], "nice": false, "zero": false}, "axis": null}, "text": {"field": "cond"}}},
    {"data": {"name": "scalebars"}, "transform": [{"filter": "datum.construct === 'loop 1 - 2'"}], "mark": {"type": "rule", "color": "#222", "strokeWidth": 0.8},
     "encoding": {"x": {"field": "t", "type": "quantitative", "scale": {"domain": [-205.5, 327.3], "nice": false, "zero": false}, "axis": null}, "x2": {"field": "t2"}, "y": {"field": "I", "type": "quantitative", "scale": {"domain": [-10.94, 1.76], "nice": false, "zero": false}, "axis": null}, "y2": {"field": "I2"}}},
    {"data": {"name": "scalelabels"}, "transform": [{"filter": "datum.construct === 'loop 1 - 2' && datum.kind === 'amp'"}], "mark": {"type": "text", "fontSize": 8, "align": "right", "baseline": "middle", "color": "#222"},
     "encoding": {"x": {"field": "t", "type": "quantitative", "scale": {"domain": [-205.5, 327.3], "nice": false, "zero": false}, "axis": null}, "y": {"field": "I", "type": "quantitative", "scale": {"domain": [-10.94, 1.76], "nice": false, "zero": false}, "axis": null}, "text": {"field": "label"}}},
    {"data": {"name": "scalelabels"}, "transform": [{"filter": "datum.construct === 'loop 1 - 2' && datum.kind === 'time'"}], "mark": {"type": "text", "fontSize": 8, "align": "center", "baseline": "middle", "color": "#222"},
     "encoding": {"x": {"field": "t", "type": "quantitative", "scale": {"domain": [-205.5, 327.3], "nice": false, "zero": false}, "axis": null}, "y": {"field": "I", "type": "quantitative", "scale": {"domain": [-10.94, 1.76], "nice": false, "zero": false}, "axis": null}, "text": {"field": "label"}}}
   ]}
  ]},
  {"width": 53, "height": 81, "data": {"name": "imax"}, "transform": [{"filter": "datum.construct === 'loop 1 - 2'"}],
   "encoding": {"x": {"field": "cond", "type": "nominal", "sort": ["pH 6.5","UDCA","-Ca²⁺"], "scale": {"paddingInner": 0.2, "paddingOuter": 0.05}, "axis": {"labels": false, "ticks": false, "title": null}}},
   "layer": [
    {"mark": {"type": "bar", "stroke": "#333", "strokeWidth": 0.8, "clip": true}, "encoding": {"y": {"field": "mean", "type": "quantitative", "scale": {"domain": [-0.05, 2.22], "nice": false, "zero": false}, "axis": {"title": "Iₘₐₓ (µA)", "values": [0, 0.5, 1, 1.5, 2], "tickCount": 12, "format": ".3~g"}}, "y2": {"datum": 0}, "fill": {"condition": {"test": "datum.cond === 'pH 6.5'", "value": "#ffffff"}, "value": "#9a9a9a"}}},
    {"mark": {"type": "rule", "color": "#222", "strokeWidth": 0.8}, "encoding": {"y": {"field": "lo", "type": "quantitative", "scale": {"domain": [-0.05, 2.22], "nice": false, "zero": false}}, "y2": {"field": "hi"}}},
    {"mark": {"type": "tick", "color": "#222", "thickness": 0.8, "size": 4}, "encoding": {"y": {"field": "lo", "type": "quantitative", "scale": {"domain": [-0.05, 2.22], "nice": false, "zero": false}}}},
    {"mark": {"type": "tick", "color": "#222", "thickness": 0.8, "size": 4}, "encoding": {"y": {"field": "hi", "type": "quantitative", "scale": {"domain": [-0.05, 2.22], "nice": false, "zero": false}}}}
   ]},
  {"width": 293, "height": 117, "resolve": {"scale": {"x": "independent", "y": "independent"}}, "layer": [
   {"layer": [
    {"data": {"name": "segments"}, "transform": [{"filter": "datum.construct === 'loop 1 + 3' && datum.region !== 'TM'"}], "mark": {"type": "rect", "stroke": "#555", "strokeWidth": 0.5},
     "encoding": {"x": {"field": "start", "type": "quantitative", "scale": {"domain": [0, 232.5], "nice": false, "zero": false}, "axis": null}, "x2": {"field": "end"},
      "y": {"datum": -1, "type": "quantitative", "scale": {"domain": [-16.625, 12.625], "nice": false, "zero": false}, "axis": null}, "y2": {"datum": 1},
      "color": {"field": "region", "type": "nominal", "scale": {"domain": ["grey","TM","BASIC","orange","gold","green","blue","purple"], "range": ["#9c9c9c","#dc1f5e","#ffffff","#c9571b","#e5a725","#2fc62b","#60c4ef","#6c22c0"]}, "legend": null}}},
    {"data": {"name": "segments"}, "transform": [{"filter": "datum.construct === 'loop 1 + 3' && datum.region === 'TM'"}], "mark": {"type": "rect", "stroke": "#555", "strokeWidth": 0.5},
     "encoding": {"x": {"field": "start", "type": "quantitative", "scale": {"domain": [0, 232.5], "nice": false, "zero": false}, "axis": null}, "x2": {"field": "end"}, "y": {"datum": -1.5, "type": "quantitative", "scale": {"domain": [-16.625, 12.625], "nice": false, "zero": false}, "axis": null}, "y2": {"datum": 1.5}, "color": {"field": "region", "type": "nominal", "legend": null}}},
    {"data": {"name": "sites"}, "transform": [{"filter": "datum.construct === 'loop 1 + 3' && datum.side === 'above'"}], "mark": {"type": "text", "fontSize": 7.5, "color": "#333", "baseline": "middle"},
     "encoding": {"x": {"field": "pos", "type": "quantitative", "scale": {"domain": [0, 232.5], "nice": false, "zero": false}, "axis": null}, "y": {"datum": 2.6, "type": "quantitative", "scale": {"domain": [-16.625, 12.625], "nice": false, "zero": false}, "axis": null}, "text": {"field": "label"}}},
    {"data": {"name": "sites"}, "transform": [{"filter": "datum.construct === 'loop 1 + 3' && datum.side === 'below'"}], "mark": {"type": "text", "fontSize": 7.5, "color": "#333", "baseline": "middle"},
     "encoding": {"x": {"field": "pos", "type": "quantitative", "scale": {"domain": [0, 232.5], "nice": false, "zero": false}, "axis": null}, "y": {"datum": -3, "type": "quantitative", "scale": {"domain": [-16.625, 12.625], "nice": false, "zero": false}, "axis": null}, "text": {"field": "label"}}},
    {"data": {"name": "constructs"}, "transform": [{"filter": "datum.construct === 'loop 1 + 3'"}], "mark": {"type": "text", "fontSize": 8.5, "align": "left", "baseline": "alphabetic", "lineBreak": "\n", "lineHeight": 10, "color": "#222"},
     "encoding": {"x": {"datum": 0.4, "type": "quantitative", "scale": {"domain": [0, 232.5], "nice": false, "zero": false}, "axis": null}, "y": {"datum": 11.9, "type": "quantitative", "scale": {"domain": [-16.625, 12.625], "nice": false, "zero": false}, "axis": null}, "text": {"field": "name"}}}
   ]},
   {"layer": [
    {"data": {"name": "traces"}, "transform": [{"filter": "datum.construct === 'loop 1 + 3'"}], "mark": {"type": "line", "color": "#333", "strokeWidth": 0.8},
     "encoding": {"x": {"field": "t", "type": "quantitative", "scale": {"domain": [-205.5, 327.3], "nice": false, "zero": false}, "axis": null}, "y": {"field": "I", "type": "quantitative", "scale": {"domain": [-0.45, 0.135], "nice": false, "zero": false}, "axis": null}}},
    {"data": {"name": "stimuli"}, "transform": [{"filter": "datum.panel === 'B'"}], "mark": {"type": "square", "size": 32, "stroke": "#333", "strokeWidth": 0.7, "opacity": 1},
     "encoding": {"x": {"field": "t", "type": "quantitative", "scale": {"domain": [-205.5, 327.3], "nice": false, "zero": false}, "axis": null}, "y": {"datum": 0.0575, "type": "quantitative", "scale": {"domain": [-0.45, 0.135], "nice": false, "zero": false}, "axis": null}, "fill": {"condition": {"test": "datum.cond === 'pH 6.5'", "value": "#ffffff"}, "value": "#9a9a9a"}}},
    {"data": {"name": "stimuli"}, "transform": [{"filter": "datum.panel === 'B'"}], "mark": {"type": "text", "fontSize": 9, "baseline": "middle", "color": "#222"},
     "encoding": {"x": {"field": "t", "type": "quantitative", "scale": {"domain": [-205.5, 327.3], "nice": false, "zero": false}, "axis": null}, "y": {"datum": 0.095, "type": "quantitative", "scale": {"domain": [-0.45, 0.135], "nice": false, "zero": false}, "axis": null}, "text": {"field": "cond"}}},
    {"data": {"name": "scalebars"}, "transform": [{"filter": "datum.construct === 'loop 1 + 3'"}], "mark": {"type": "rule", "color": "#222", "strokeWidth": 0.8},
     "encoding": {"x": {"field": "t", "type": "quantitative", "scale": {"domain": [-205.5, 327.3], "nice": false, "zero": false}, "axis": null}, "x2": {"field": "t2"}, "y": {"field": "I", "type": "quantitative", "scale": {"domain": [-0.45, 0.135], "nice": false, "zero": false}, "axis": null}, "y2": {"field": "I2"}}},
    {"data": {"name": "scalelabels"}, "transform": [{"filter": "datum.construct === 'loop 1 + 3' && datum.kind === 'amp'"}], "mark": {"type": "text", "fontSize": 8, "align": "right", "baseline": "middle", "color": "#222"},
     "encoding": {"x": {"field": "t", "type": "quantitative", "scale": {"domain": [-205.5, 327.3], "nice": false, "zero": false}, "axis": null}, "y": {"field": "I", "type": "quantitative", "scale": {"domain": [-0.45, 0.135], "nice": false, "zero": false}, "axis": null}, "text": {"field": "label"}}}
   ]}
  ]},
  {"width": 53, "height": 79, "data": {"name": "imax"}, "transform": [{"filter": "datum.construct === 'loop 1 + 3'"}],
   "encoding": {"x": {"field": "cond", "type": "nominal", "sort": ["pH 6.5","UDCA","-Ca²⁺"], "scale": {"paddingInner": 0.2, "paddingOuter": 0.05}, "axis": {"labels": false, "ticks": false, "title": null}}},
   "layer": [
    {"mark": {"type": "bar", "stroke": "#333", "strokeWidth": 0.8, "clip": true}, "encoding": {"y": {"field": "mean", "type": "quantitative", "scale": {"domain": [-0.0008, 0.0591], "nice": false, "zero": false}, "axis": {"title": "Iₘₐₓ (µA)", "values": [0, 0.01, 0.02, 0.03, 0.04, 0.05], "tickCount": 12, "format": ".3~g"}}, "y2": {"datum": 0}, "fill": {"condition": {"test": "datum.cond === 'pH 6.5'", "value": "#ffffff"}, "value": "#9a9a9a"}}},
    {"mark": {"type": "rule", "color": "#222", "strokeWidth": 0.8}, "encoding": {"y": {"field": "lo", "type": "quantitative", "scale": {"domain": [-0.0008, 0.0591], "nice": false, "zero": false}}, "y2": {"field": "hi"}}},
    {"mark": {"type": "tick", "color": "#222", "thickness": 0.8, "size": 4}, "encoding": {"y": {"field": "lo", "type": "quantitative", "scale": {"domain": [-0.0008, 0.0591], "nice": false, "zero": false}}}},
    {"mark": {"type": "tick", "color": "#222", "thickness": 0.8, "size": 4}, "encoding": {"y": {"field": "hi", "type": "quantitative", "scale": {"domain": [-0.0008, 0.0591], "nice": false, "zero": false}}}}
   ]},
  {"width": 293, "height": 107, "resolve": {"scale": {"x": "independent", "y": "independent"}}, "layer": [
   {"layer": [
    {"data": {"name": "segments"}, "transform": [{"filter": "datum.construct === 'loop 2 - 3' && datum.region !== 'TM'"}], "mark": {"type": "rect", "stroke": "#555", "strokeWidth": 0.5},
     "encoding": {"x": {"field": "start", "type": "quantitative", "scale": {"domain": [0, 232.5], "nice": false, "zero": false}, "axis": null}, "x2": {"field": "end"},
      "y": {"datum": -1, "type": "quantitative", "scale": {"domain": [-13.625, 13.125], "nice": false, "zero": false}, "axis": null}, "y2": {"datum": 1},
      "color": {"field": "region", "type": "nominal", "scale": {"domain": ["grey","TM","BASIC","orange","gold","green","blue","purple"], "range": ["#9c9c9c","#dc1f5e","#ffffff","#c9571b","#e5a725","#2fc62b","#60c4ef","#6c22c0"]}, "legend": null}}},
    {"data": {"name": "segments"}, "transform": [{"filter": "datum.construct === 'loop 2 - 3' && datum.region === 'TM'"}], "mark": {"type": "rect", "stroke": "#555", "strokeWidth": 0.5},
     "encoding": {"x": {"field": "start", "type": "quantitative", "scale": {"domain": [0, 232.5], "nice": false, "zero": false}, "axis": null}, "x2": {"field": "end"}, "y": {"datum": -1.5, "type": "quantitative", "scale": {"domain": [-13.625, 13.125], "nice": false, "zero": false}, "axis": null}, "y2": {"datum": 1.5}, "color": {"field": "region", "type": "nominal", "legend": null}}},
    {"data": {"name": "sites"}, "transform": [{"filter": "datum.construct === 'loop 2 - 3' && datum.side === 'above'"}], "mark": {"type": "text", "fontSize": 7.5, "color": "#333", "baseline": "middle"},
     "encoding": {"x": {"field": "pos", "type": "quantitative", "scale": {"domain": [0, 232.5], "nice": false, "zero": false}, "axis": null}, "y": {"datum": 2.6, "type": "quantitative", "scale": {"domain": [-13.625, 13.125], "nice": false, "zero": false}, "axis": null}, "text": {"field": "label"}}},
    {"data": {"name": "sites"}, "transform": [{"filter": "datum.construct === 'loop 2 - 3' && datum.side === 'below'"}], "mark": {"type": "text", "fontSize": 7.5, "color": "#333", "baseline": "middle"},
     "encoding": {"x": {"field": "pos", "type": "quantitative", "scale": {"domain": [0, 232.5], "nice": false, "zero": false}, "axis": null}, "y": {"datum": -3, "type": "quantitative", "scale": {"domain": [-13.625, 13.125], "nice": false, "zero": false}, "axis": null}, "text": {"field": "label"}}},
    {"data": {"name": "constructs"}, "transform": [{"filter": "datum.construct === 'loop 2 - 3'"}], "mark": {"type": "text", "fontSize": 8.5, "align": "left", "baseline": "alphabetic", "lineBreak": "\n", "lineHeight": 10, "color": "#222"},
     "encoding": {"x": {"datum": 0.4, "type": "quantitative", "scale": {"domain": [0, 232.5], "nice": false, "zero": false}, "axis": null}, "y": {"datum": 13.4, "type": "quantitative", "scale": {"domain": [-13.625, 13.125], "nice": false, "zero": false}, "axis": null}, "text": {"field": "name"}}}
   ]},
   {"layer": [
    {"data": {"name": "traces"}, "transform": [{"filter": "datum.construct === 'loop 2 - 3'"}], "mark": {"type": "line", "color": "#333", "strokeWidth": 0.8},
     "encoding": {"x": {"field": "t", "type": "quantitative", "scale": {"domain": [-205.5, 327.3], "nice": false, "zero": false}, "axis": null}, "y": {"field": "I", "type": "quantitative", "scale": {"domain": [-9.1, 1.6], "nice": false, "zero": false}, "axis": null}}},
    {"data": {"name": "stimuli"}, "transform": [{"filter": "datum.panel === 'B'"}], "mark": {"type": "square", "size": 32, "stroke": "#333", "strokeWidth": 0.7, "opacity": 1},
     "encoding": {"x": {"field": "t", "type": "quantitative", "scale": {"domain": [-205.5, 327.3], "nice": false, "zero": false}, "axis": null}, "y": {"datum": 0.95, "type": "quantitative", "scale": {"domain": [-9.1, 1.6], "nice": false, "zero": false}, "axis": null}, "fill": {"condition": {"test": "datum.cond === 'pH 6.5'", "value": "#ffffff"}, "value": "#9a9a9a"}}},
    {"data": {"name": "stimuli"}, "transform": [{"filter": "datum.panel === 'B'"}], "mark": {"type": "text", "fontSize": 9, "baseline": "middle", "color": "#222"},
     "encoding": {"x": {"field": "t", "type": "quantitative", "scale": {"domain": [-205.5, 327.3], "nice": false, "zero": false}, "axis": null}, "y": {"datum": 1.9, "type": "quantitative", "scale": {"domain": [-9.1, 1.6], "nice": false, "zero": false}, "axis": null}, "text": {"field": "cond"}}},
    {"data": {"name": "scalebars"}, "transform": [{"filter": "datum.construct === 'loop 2 - 3'"}], "mark": {"type": "rule", "color": "#222", "strokeWidth": 0.8},
     "encoding": {"x": {"field": "t", "type": "quantitative", "scale": {"domain": [-205.5, 327.3], "nice": false, "zero": false}, "axis": null}, "x2": {"field": "t2"}, "y": {"field": "I", "type": "quantitative", "scale": {"domain": [-9.1, 1.6], "nice": false, "zero": false}, "axis": null}, "y2": {"field": "I2"}}},
    {"data": {"name": "scalelabels"}, "transform": [{"filter": "datum.construct === 'loop 2 - 3' && datum.kind === 'amp'"}], "mark": {"type": "text", "fontSize": 8, "align": "right", "baseline": "middle", "color": "#222"},
     "encoding": {"x": {"field": "t", "type": "quantitative", "scale": {"domain": [-205.5, 327.3], "nice": false, "zero": false}, "axis": null}, "y": {"field": "I", "type": "quantitative", "scale": {"domain": [-9.1, 1.6], "nice": false, "zero": false}, "axis": null}, "text": {"field": "label"}}}
   ]}
  ]},
  {"width": 53, "height": 78, "data": {"name": "imax"}, "transform": [{"filter": "datum.construct === 'loop 2 - 3'"}],
   "encoding": {"x": {"field": "cond", "type": "nominal", "sort": ["pH 6.5","UDCA","-Ca²⁺"], "scale": {"paddingInner": 0.2, "paddingOuter": 0.05}, "axis": {"ticks": false, "title": null, "labelAngle": -45, "labelAlign": "right", "labelBaseline": "middle", "labelFontSize": 8.5, "labelPadding": 2}}},
   "layer": [
    {"mark": {"type": "bar", "stroke": "#333", "strokeWidth": 0.8, "clip": true}, "encoding": {"y": {"field": "mean", "type": "quantitative", "scale": {"domain": [-0.2, 6.53], "nice": false, "zero": false}, "axis": {"title": "Iₘₐₓ (µA)", "values": [0, 2, 4, 6], "tickCount": 12, "format": ".3~g"}}, "y2": {"datum": 0}, "fill": {"condition": {"test": "datum.cond === 'pH 6.5'", "value": "#ffffff"}, "value": "#9a9a9a"}}},
    {"mark": {"type": "rule", "color": "#222", "strokeWidth": 0.8}, "encoding": {"y": {"field": "lo", "type": "quantitative", "scale": {"domain": [-0.2, 6.53], "nice": false, "zero": false}}, "y2": {"field": "hi"}}},
    {"mark": {"type": "tick", "color": "#222", "thickness": 0.8, "size": 4}, "encoding": {"y": {"field": "lo", "type": "quantitative", "scale": {"domain": [-0.2, 6.53], "nice": false, "zero": false}}}},
    {"mark": {"type": "tick", "color": "#222", "thickness": 0.8, "size": 4}, "encoding": {"y": {"field": "hi", "type": "quantitative", "scale": {"domain": [-0.2, 6.53], "nice": false, "zero": false}}}}
   ]}
 ]}
]
}
